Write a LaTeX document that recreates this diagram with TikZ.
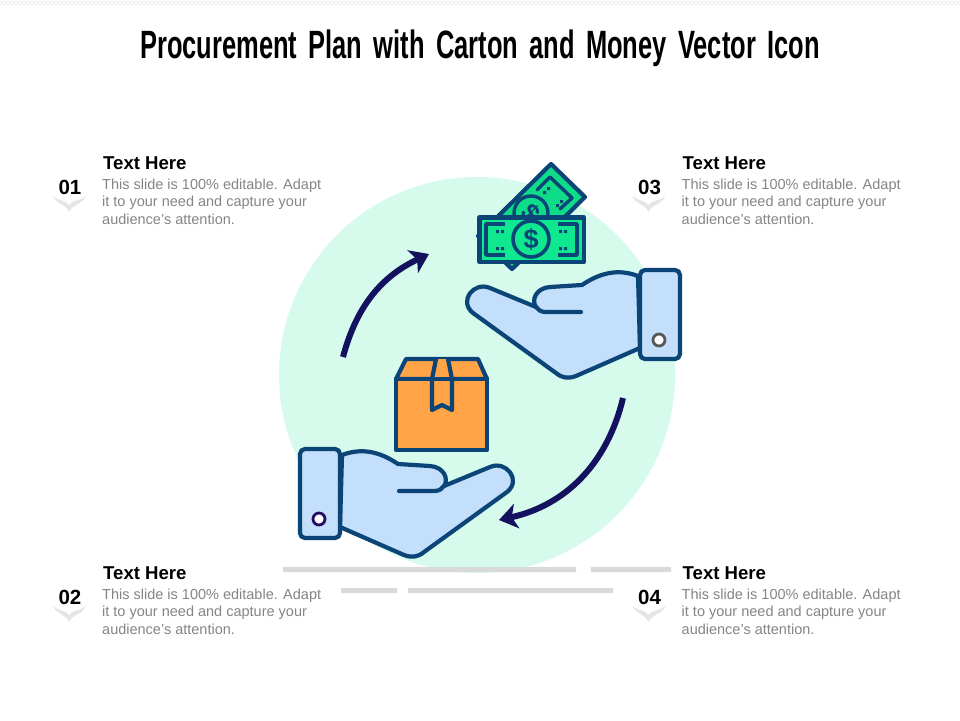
\documentclass[tikz,border=0pt]{standalone}
\usepackage{fontspec}
\setmainfont{Liberation Sans}
\newfontfamily\titlefont[FakeStretch=0.645,WordSpace=1.6]{Liberation Sans Bold}
\usetikzlibrary{arrows.meta}
\definecolor{mintbg}{HTML}{D6FBEC}
\definecolor{handblue}{HTML}{C3DFFB}
\definecolor{inkblue}{HTML}{0B4477}
\definecolor{boxorange}{HTML}{FFA447}
\definecolor{billgreen}{HTML}{10E88F}
\definecolor{arrownavy}{HTML}{14115F}
\definecolor{barfill}{HTML}{D9D9D9}
\definecolor{bodygrey}{HTML}{858585}
\tikzset{
	icon/.style={draw=inkblue,line width=4.2pt,line join=round,line cap=round},
	heading/.style={font=\bfseries\fontsize{18.6}{20}\selectfont,anchor=west,inner sep=0pt},
	bodytext/.style={font=\fontsize{14.5}{17.6}\selectfont,text=bodygrey,align=left,anchor=north west,inner sep=0pt},
	numlabel/.style={font=\bfseries\fontsize{20.5}{22}\selectfont,inner sep=0pt},
	turn/.style={draw=arrownavy,line width=6pt,-{Stealth[length=18pt,width=25pt,inset=5pt]}},
	hand/.pic={
		\path[icon,fill=handblue]
		(638,276) .. controls (622,270) and (604,270) .. (582,285) -- (550,287)
		.. controls (536,288) and (531,300) .. (536,307) -- (490,288)
		.. controls (474,281) and (458,301) .. (473,313) -- (556,373)
		.. controls (562,378) and (568,379) .. (576,376) -- (640,348) -- cycle;
		\draw[icon] (536,307) .. controls (538,310) and (541,312) .. (546,312) -- (581,312);
		\draw[icon,fill=handblue,rounded corners=5pt] (640,270) rectangle (680,359);
	}
}
\begin{document}
\begin{tikzpicture}[x=1pt,y=-1pt,line join=round,>=stealth]
	\useasboundingbox (0,0) rectangle (960,720);
	\fill[white] (0,0) rectangle (960,720);
	% zigzag strip along the top
	\foreach \k in {0,8,...,952}{
		\draw[black!9,line width=.5pt] (\k,1)--(\k+4,5)--(\k+8,1) (\k,5)--(\k+4,1)--(\k+8,5);
	}
	\node[font=\titlefont\fontsize{39.5}{42}\selectfont] (title) at (480,48) {Procurement Plan with Carton and Money Vector Icon};
	% backdrop
	\fill[mintbg] (477,375) circle (198);
	\fill[barfill]
	(283,567) rectangle (576,572)
	(591,567) rectangle (671,572)
	(341,588) rectangle (397,593)
	(408,588) rectangle (613,593)
	;
	% text blocks
	\foreach \name/\num/\px/\py in {a/01/0/0,b/02/0/410,c/03/579.5/0,d/04/579.5/410}{
		\node[numlabel] (num\name) at (70+\px,187+\py) {\num};
		\node[heading] (head\name) at (103+\px,163+\py) {Text Here};
		\node[bodytext] (body\name) at (102+\px,178.5+\py) {This slide is 100\% editable. Adapt\\it to your need and capture your\\audience’s attention.};
		\fill[black!10]
		(53+\px,196+\py) .. controls (58+\px,201+\py) and (66+\px,200+\py) .. (69+\px,205+\py)
		.. controls (72+\px,200+\py) and (80+\px,201+\py) .. (86+\px,196+\py)
		.. controls (82+\px,205+\py) and (72+\px,204+\py) .. (69+\px,212+\py)
		.. controls (66+\px,204+\py) and (57+\px,205+\py) .. (53+\px,196+\py);
	}
	% rear banknote
	\draw[icon,fill=billgreen!95!black] (551,164)--(585,197)--(512,269)--(478,236)--cycle;
	\draw[icon,line width=3.4pt] (537,190)--(550,177)--(572,198)--(560,209);
	\draw[icon,line width=3.4pt] (531,213) circle (17);
	\node[font=\bfseries\fontsize{26}{26}\selectfont,text=inkblue,rotate=-45,inner sep=0pt] (dollarback) at (531,213) {\$};
	\fill[inkblue] (543,191) rectangle +(3,3) (547,187) rectangle +(3,3) (556,204) rectangle +(3,3) (560,200) rectangle +(3,3);
	% front banknote
	\draw[icon,fill=billgreen] (479.5,217.5) rectangle (584,262);
	\draw[icon,line width=3.6pt,line cap=butt] (505,224)--(486,224)--(486,255)--(505,255);
	\draw[icon,line width=3.6pt,line cap=butt] (558,224)--(577,224)--(577,255)--(558,255);
	\draw[icon,line width=3.6pt] (531,239) circle (18);
	\node[font=\bfseries\fontsize{27}{27}\selectfont,text=inkblue,inner sep=0pt] (dollarfront) at (531,239) {\$};
	\fill[inkblue]
	(496,230) rectangle +(3,3) (501,230) rectangle +(3,3)
	(496,247) rectangle +(3,3) (501,247) rectangle +(3,3)
	(559,230) rectangle +(3,3) (564,230) rectangle +(3,3)
	(559,247) rectangle +(3,3) (564,247) rectangle +(3,3)
	;
	% carton
	\draw[icon,fill=boxorange] (406,359)--(478,359)--(487,379)--(396,379)--cycle;
	\draw[icon,fill=boxorange] (396,379) rectangle (487,450);
	\draw[icon,fill=boxorange] (436,359)--(432,379)--(432,410)--(442,405)--(452,410)--(452,379)--(448,359);
	\draw[icon] (396,379)--(487,379);
	% hands
	\pic (giving) at (0,0) {hand};
	\draw[draw=black!65,line width=2.8pt,fill=white] (659,340) circle (6);
	\pic[xscale=-1] (taking) at (980,179) {hand};
	\draw[draw=arrownavy!85!violet,line width=2.8pt,fill=white] (319,519) circle (6);
	% turning arrows
	\coordinate (upstart) at (343,357);
	\coordinate (upend) at (429,254);
	\coordinate (downstart) at (623,398);
	\coordinate (downend) at (499,520);
	\draw[turn] (upstart) to[bend left=25] (upend);
	\draw[turn] (downstart) to[bend left=32] (downend);
\end{tikzpicture}
\end{document}
